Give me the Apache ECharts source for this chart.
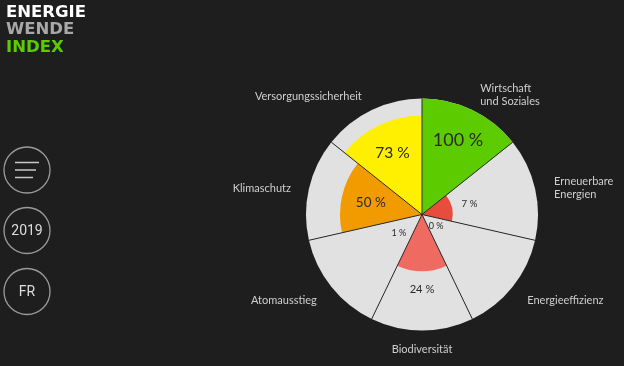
<!DOCTYPE html>
<html><head><meta charset="utf-8">
<script src="https://cdn.jsdelivr.net/npm/echarts@6/dist/echarts.min.js"></script>
<style>html,body{margin:0;padding:0;background:#1e1e1e;}#c{width:624px;height:366px;}</style>
</head><body><div id="c"></div>
<script>
const categories = ['Wirtschaft\nund Soziales','Erneuerbare\nEnergien','Energieeffizienz','Biodiversität','Atomausstieg','Klimaschutz','Versorgungssicherheit'];
const shares = [100, 7, 0, 24, 1, 50, 73];
const fillColors = ['#5ccc00','#e84c3d','#e84c3d','#ef6b62','#e1e1e1','#f29b00','#fff000'];
const fullScale = 100;
const navLabels = ['2019','FR'];
const logoLines = ['ENERGIE','WENDE','INDEX'];
const logoColors = ['#ffffff','#a8a8a8','#5ccc00'];

// label padding per category (style only): [top, right, bottom, left]
const catPadding = [[0,0,0,7],[0,0,9,17],[6,0,0,13],[10,0,0,0],[6,13,0,0],[0,16,5,0],[0,9,5,0]];

const chart = echarts.init(document.getElementById('c'), null, {renderer:'canvas'});

const graphics = [];
logoLines.forEach((t,i)=>{
  graphics.push({type:'text', left:6, top:4 + i*17.5, style:{text:t, fill:logoColors[i], font:'bold 16.5px "DejaVu Sans"'}});
});
const navY = [170, 230.5, 291.5];
navY.forEach(cy=>{
  graphics.push({type:'circle', shape:{cx:27, cy:cy, r:23}, style:{fill:'none', stroke:'#9a9a9a', lineWidth:1.3}});
});
[[15,39,162.5],[15,36,170],[15,33,177.5]].forEach(l=>{
  graphics.push({type:'line', shape:{x1:l[0],y1:l[2],x2:l[1],y2:l[2]}, style:{stroke:'#c8c8c8', lineWidth:1.5}});
});
navLabels.forEach((t,i)=>{
  graphics.push({type:'text', x:27, y:navY[i+1]+1, style:{text:t, fill:'#dddddd', font:'14px Roboto', textAlign:'center', textVerticalAlign:'middle'}});
});

const option = {
  backgroundColor:'#1e1e1e',
  animation:false,
  graphic: graphics,
  polar:{center:[422,214.5], radius:116},
  angleAxis:{
    type:'category',
    data: categories.map((c,i)=>({value:c, textStyle:{padding:catPadding[i]}})),
    startAngle:90, clockwise:true, z:10,
    axisLine:{show:false}, axisTick:{show:false},
    splitLine:{show:true, lineStyle:{color:'#2b2b2b', width:1}},
    axisLabel:{color:'#cfcfcf', fontFamily:'Lato', fontSize:11, margin:2, lineHeight:13}
  },
  radiusAxis:{type:'value', min:0, max:1, show:false, axisLine:{show:false}, axisLabel:{show:false}, splitLine:{show:false}, axisTick:{show:false}},
  series:[
    {type:'bar', coordinateSystem:'polar', barWidth:'100%',
     showBackground:true, backgroundStyle:{color:'#e1e1e1', opacity:1},
     data: shares.map((v,i)=>({
       value: Math.sqrt(v/fullScale),
       itemStyle:{color:fillColors[i], opacity:1},
       label:{show:true, formatter: v + ' %', position: v>=50 ? 'insideEnd' : 'end', distance: v>=50 ? 26 + 0.07*v : 18,
              rotate:0, align:'center', verticalAlign:'middle', color:'#2a2a2a', fontFamily:'Lato', fontSize: 9 + 0.09*v}
     }))
    }
  ]
};
chart.setOption(option);
</script></body></html>
